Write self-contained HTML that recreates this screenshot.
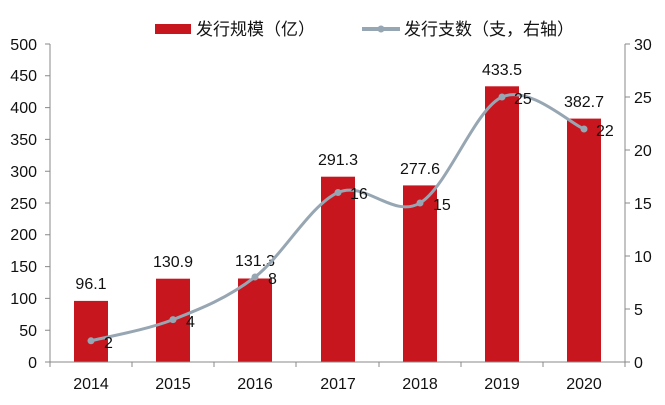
<!DOCTYPE html>
<html><head><meta charset="utf-8"><style>
body{margin:0;background:#fff;}
svg{display:block;font-family:"Liberation Sans","Noto Sans CJK SC",sans-serif;}
</style></head><body>
<svg width="665" height="405" viewBox="0 0 665 405" xmlns="http://www.w3.org/2000/svg">
<rect x="155" y="24" width="36" height="10" fill="#C8161F"/>
<text x="196" y="35" font-size="17" fill="#111">发行规模（亿）</text>
<line x1="362" y1="29" x2="400" y2="29" stroke="#97A6B3" stroke-width="4"/>
<circle cx="381" cy="29" r="3.5" fill="#97A6B3"/>
<text x="404" y="35" font-size="17" fill="#111">发行支数（支，右轴）</text>
<g fill="#C8161F">
<rect x="74" y="300.9" width="34" height="61.1"/>
<rect x="156" y="278.7" width="34" height="83.3"/>
<rect x="238" y="278.5" width="34" height="83.5"/>
<rect x="321" y="176.7" width="34" height="185.3"/>
<rect x="403" y="185.4" width="34" height="176.6"/>
<rect x="485" y="86.3" width="34" height="275.7"/>
<rect x="567" y="118.6" width="34" height="243.4"/>
</g>
<g stroke="#888" stroke-width="1" fill="none">
<line x1="50" y1="44" x2="50" y2="362"/>
<line x1="625" y1="44" x2="625" y2="362"/>
<line x1="50" y1="362" x2="625" y2="362"/>
<path d="M45 44H50M45 75.8H50M45 107.6H50M45 139.4H50M45 171.2H50M45 203H50M45 234.8H50M45 266.6H50M45 298.4H50M45 330.2H50M45 362H50"/>
<path d="M625 44H630M625 97H630M625 150H630M625 203H630M625 256H630M625 309H630M625 362H630"/>
<path d="M50 362V367M132 362V367M214 362V367M296 362V367M379 362V367M461 362V367M543 362V367M625 362V367"/>
</g>
<g font-size="16" fill="#111" text-anchor="end">
<text x="37" y="50">500</text><text x="37" y="81">450</text><text x="37" y="113">400</text>
<text x="37" y="145">350</text><text x="37" y="177">300</text><text x="37" y="209">250</text>
<text x="37" y="240">200</text><text x="37" y="272">150</text><text x="37" y="304">100</text>
<text x="37" y="336">50</text><text x="37" y="368">0</text>
</g>
<g font-size="16" fill="#111">
<text x="634" y="50">30</text><text x="634" y="103">25</text><text x="634" y="156">20</text>
<text x="634" y="209">15</text><text x="634" y="262">10</text><text x="634" y="315">5</text><text x="634" y="368">0</text>
</g>
<g font-size="16" fill="#111" text-anchor="middle">
<text x="91" y="389">2014</text><text x="173" y="389">2015</text><text x="255" y="389">2016</text>
<text x="338" y="389">2017</text><text x="420" y="389">2018</text><text x="502" y="389">2019</text><text x="584" y="389">2020</text>
</g>
<g font-size="16" fill="#111" text-anchor="middle">
<text x="91" y="289">96.1</text><text x="173" y="267">130.9</text><text x="255" y="266">131.3</text>
<text x="338" y="165">291.3</text><text x="420" y="174">277.6</text><text x="502" y="75">433.5</text><text x="584" y="107">382.7</text>
</g>
<path d="M91 340.8C104.7 337.3 145.7 330.2 173 319.6C200.3 309 227.5 298.2 255 277C282.5 255.8 310.5 204.8 338 192.5C365.5 180.2 392.7 218.9 420 203C447.3 187.1 474.7 109.3 502 97C529.3 84.7 570.3 123.7 584 129" fill="none" stroke="#97A6B3" stroke-width="3"/>
<g fill="#97A6B3">
<circle cx="91" cy="340.8" r="3.5"/><circle cx="173" cy="319.6" r="3.5"/><circle cx="255" cy="277" r="3.5"/>
<circle cx="338" cy="192.5" r="3.5"/><circle cx="420" cy="203" r="3.5"/><circle cx="502" cy="97" r="3.5"/><circle cx="584" cy="129" r="3.5"/>
</g>
<g font-size="16" fill="#111">
<text x="104" y="348">2</text><text x="186" y="327">4</text><text x="268" y="284">8</text>
<text x="350" y="199">16</text><text x="433" y="210">15</text><text x="514" y="104">25</text><text x="596" y="136">22</text>
</g>
</svg>
</body></html>
